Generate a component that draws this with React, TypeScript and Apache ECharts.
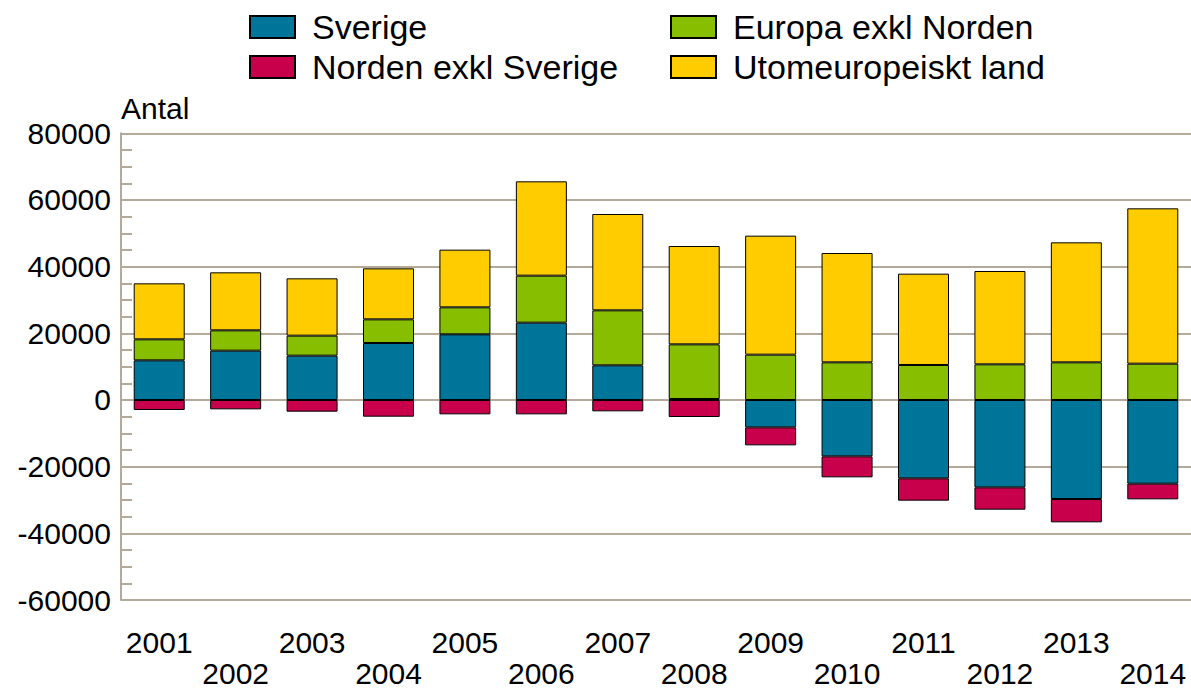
import React, { useEffect, useRef } from "react";
import * as echarts from "echarts";

const years = ["2001","2002","2003","2004","2005","2006","2007","2008","2009","2010","2011","2012","2013","2014"];
const sverige = [11900, 14800, 13300, 17100, 19700, 23200, 10400, 300, -8200, -16900, -23500, -26200, -29700, -25100];
const norden = [-3000, -2800, -3500, -5000, -4300, -4300, -3400, -5100, -5400, -6300, -6700, -6700, -7000, -4700];
const europa = [6300, 6100, 6000, 7100, 8100, 14100, 16500, 16400, 13600, 11300, 10500, 10700, 11300, 10900];
const utom = [16800, 17400, 17200, 15300, 17300, 28300, 28900, 29500, 35700, 32800, 27400, 28000, 36000, 46600];

const FONT = "'Liberation Sans', Arial, sans-serif";
const AXIS = "#b4aa9b";

export default function App() {
  const ref = useRef<HTMLDivElement>(null);
  useEffect(() => {
    if (!ref.current) return;
    const chart = echarts.init(ref.current, null, { renderer: "svg" });
    const mk = (name: string, data: number[], color: string) => ({
      name,
      type: "bar",
      stack: "total",
      data,
      barWidth: 51,
      itemStyle: { color, borderColor: "#000", borderWidth: 1 },
    });
    const legendBase = {
      orient: "vertical",
      padding: 0,
      itemWidth: 45,
      itemHeight: 22,
      itemGap: 6,
      icon: "rect",
      textStyle: { fontSize: 34, fontFamily: FONT, color: "#000", padding: [0, 0, 0, 12] },
    };
    const xBase = (offset: number, even: boolean) => ({
      type: "category",
      data: years,
      position: "bottom",
      offset,
      axisLine: { show: false },
      axisTick: { show: false },
      splitLine: { show: false },
      axisLabel: {
        interval: (i: number) => (even ? i % 2 === 1 : i % 2 === 0),
        margin: 29,
        fontSize: 30,
        lineHeight: 26,
        color: "#000",
        fontFamily: FONT,
      },
    });
    chart.setOption({
      animation: false,
      textStyle: { fontFamily: FONT },
      legend: [
        { ...legendBase, left: 249, top: 10, data: ["Sverige", "Norden exkl Sverige"] },
        { ...legendBase, left: 670, top: 10, data: ["Europa exkl Norden", "Utomeuropeiskt land"] },
      ],
      graphic: [
        {
          type: "text",
          left: 121,
          top: 93,
          style: { text: "Antal", fontSize: 30, fontFamily: FONT, fill: "#000" },
        },
      ],
      grid: {
        left: 121,
        right: 0,
        top: 133.33,
        bottom: 91,
        containLabel: false,
        outerBoundsMode: "none",
      },
      xAxis: [xBase(0, false), xBase(31, true)],
      yAxis: {
        type: "value",
        min: -60000,
        max: 80000,
        interval: 20000,
        axisLine: { show: true, lineStyle: { color: AXIS, width: 2 } },
        axisTick: { show: true, inside: true, length: 11, lineStyle: { color: AXIS, width: 2 } },
        minorTick: { show: true, splitNumber: 4, length: 11, lineStyle: { color: AXIS, width: 2 } },
        splitLine: { show: true, lineStyle: { color: AXIS, width: 2 } },
        axisLabel: {
          fontSize: 30,
          color: "#000",
          margin: 10,
          fontFamily: FONT,
          formatter: (v: number) => String(v),
        },
      },
      series: [
        mk("Sverige", sverige, "#00759A"),
        mk("Norden exkl Sverige", norden, "#C8004B"),
        mk("Europa exkl Norden", europa, "#87BE00"),
        mk("Utomeuropeiskt land", utom, "#FFCC00"),
      ],
    });
    return () => chart.dispose();
  }, []);
  return (
    <div
      ref={ref}
      style={{ position: "absolute", left: 0, top: 0, width: 1191, height: 691, background: "#fff" }}
    />
  );
}
